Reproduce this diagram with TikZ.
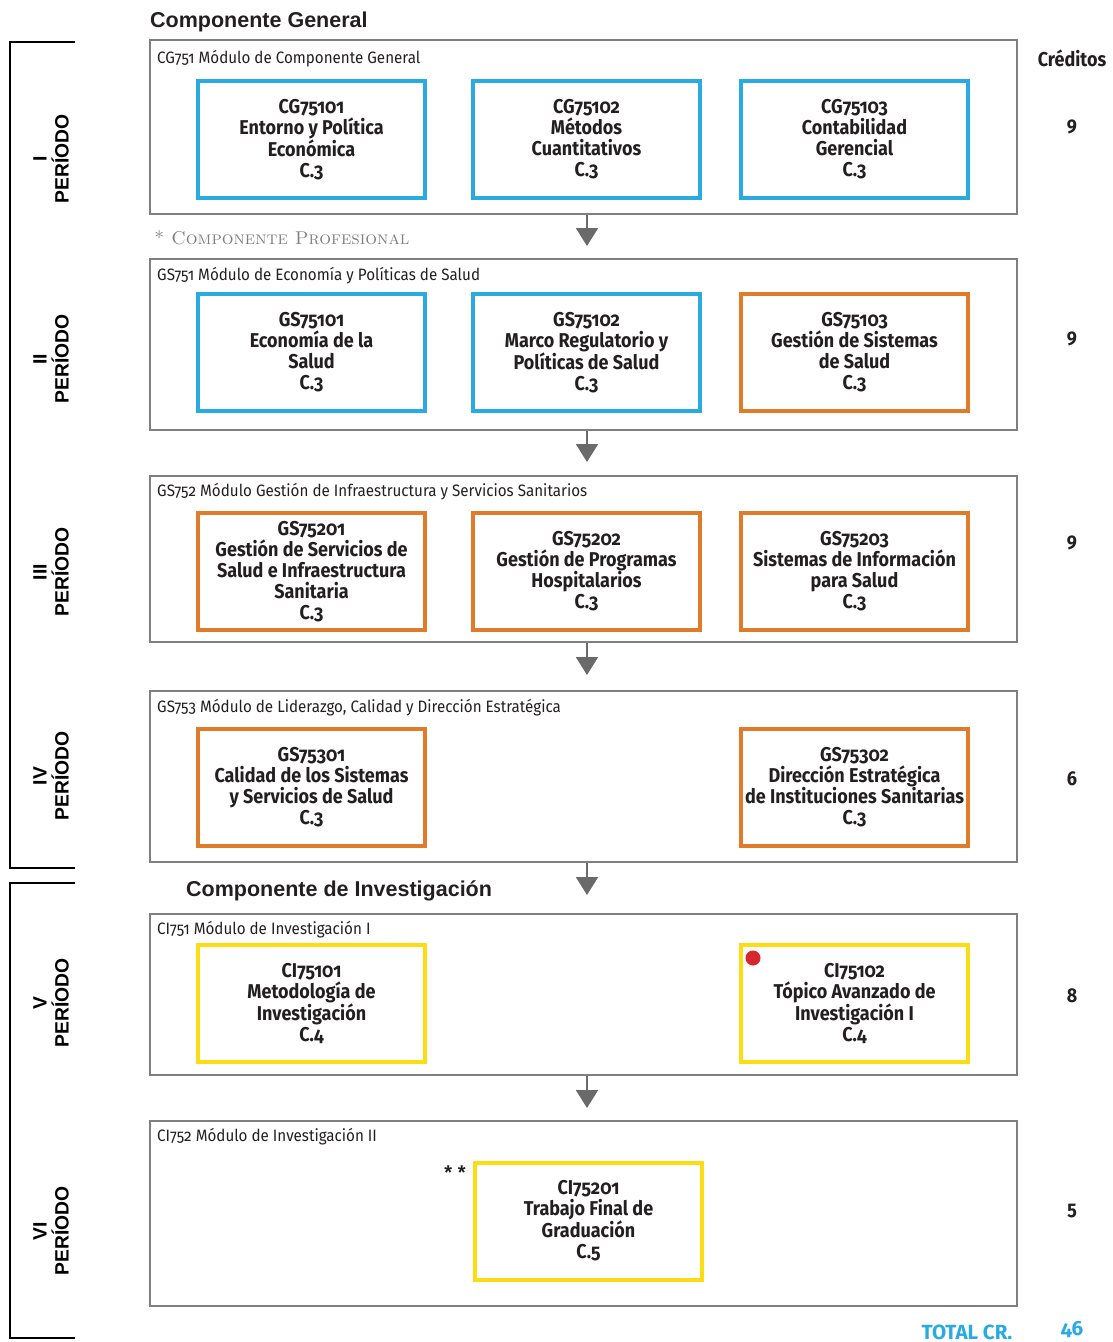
\documentclass[tikz,border=0pt]{standalone}
\usepackage{fontspec}
\setmainfont{Liberation Sans}
\newfontfamily\curso[Numbers=OldStyle,FakeStretch=0.9]{Fira Sans}
\newfontfamily\modulofont[Numbers=OldStyle,FakeStretch=0.92]{Fira Sans}
\newfontfamily\cifra[Numbers=OldStyle]{Fira Sans}
\newfontfamily\profesional{lmromancaps10-regular.otf}
\usetikzlibrary{arrows.meta}
\definecolor{cazul}{HTML}{29ABE2}
\definecolor{cnaranja}{HTML}{E07B2A}
\definecolor{camarillo}{HTML}{FCDD14}
\definecolor{cgris}{HTML}{7F7F7F}
\definecolor{cflecha}{HTML}{6A6A6A}
\definecolor{ctexto}{HTML}{231F20}
\definecolor{crojo}{HTML}{D7262E}

\begin{document}
\begin{tikzpicture}[x=1pt, y=-1pt,
    modulo/.style={draw=cgris, line width=2pt, minimum width=867pt, inner sep=0pt},
    curso/.style={line width=4pt, minimum width=227pt, minimum height=117pt, inner sep=0pt,
        align=center, text=ctexto, font=\curso\bfseries\fontsize{20}{21}\selectfont},
    cursoazul/.style={curso, draw=cazul},
    cursonaranja/.style={curso, draw=cnaranja},
    cursoamarillo/.style={curso, draw=camarillo},
    titulo/.style={anchor=west, inner sep=0pt, text=ctexto, font=\modulofont\fontsize{16.5}{16.5}\selectfont},
    componente/.style={anchor=west, inner sep=0pt, text=ctexto, font=\bfseries\fontsize{21.5}{21.5}\selectfont},
    periodo/.style={rotate=90, align=center, inner sep=0pt, font=\bfseries\fontsize{19.3}{22}\selectfont},
    credito/.style={inner sep=0pt, text=ctexto, font=\curso\bfseries\fontsize{20}{20}\selectfont},
    flecha/.style={draw=cflecha, line width=2pt, -{Triangle[length=18pt,width=22pt,fill=cflecha]}}]

    \useasboundingbox (0,0) rectangle (1112,1342);

    % periodos
    \draw[line width=1.5pt] (75,42) -- (10,42) -- (10,868) -- (75,868);
    \draw[line width=1.5pt] (75,883) -- (10,883) -- (10,1338) -- (75,1338);
    \node[periodo] at (51,159)  (p1) {I\\PERÍODO};
    \node[periodo] at (51,359)  (p2) {II\\PERÍODO};
    \node[periodo] at (51,572)  (p3) {III\\PERÍODO};
    \node[periodo] at (51,776)  (p4) {IV\\PERÍODO};
    \node[periodo] at (51,1003) (p5) {V\\PERÍODO};
    \node[periodo] at (51,1231) (p6) {VI\\PERÍODO};

    % componentes
    \node[componente] at (150,22) (cg) {Componente General};
    \node[anchor=west, inner sep=0pt, text=cgris, font=\profesional\fontsize{18.5}{18.5}\selectfont] at (154,238) (cp) {* Componente Profesional};
    \node[componente] at (186,891) (ci) {Componente de Investigación};

    % modulos
    \node[modulo, minimum height=174pt] at (583.5,127)    (m1) {};
    \node[modulo, minimum height=171pt] at (583.5,344.5)  (m2) {};
    \node[modulo, minimum height=166pt] at (583.5,559)    (m3) {};
    \node[modulo, minimum height=171pt] at (583.5,776.5)  (m4) {};
    \node[modulo, minimum height=161pt] at (583.5,994.5)  (m5) {};
    \node[modulo, minimum height=185pt] at (583.5,1213.5) (m6) {};

    \node[titulo] at (157,59)   (t1) {CG751 Módulo de Componente General};
    \node[titulo] at (157,276)  (t2) {GS751 Módulo de Economía y Políticas de Salud};
    \node[titulo] at (157,492)  (t3) {GS752 Módulo Gestión de Infraestructura y Servicios Sanitarios};
    \node[titulo] at (157,708)  (t4) {GS753 Módulo de Liderazgo, Calidad y Dirección Estratégica};
    \node[titulo] at (157,930)  (t5) {CI751 Módulo de Investigación I};
    \node[titulo] at (157,1137) (t6) {CI752 Módulo de Investigación II};

    % cursos
    \node[cursoazul] at (311.5,139.5) (cg75101) {CG75101\\Entorno y Política\\Económica\\C.3};
    \node[cursoazul] at (586.5,139.5) (cg75102) {CG75102\\Métodos\\Cuantitativos\\C.3};
    \node[cursoazul] at (854.5,139.5) (cg75103) {CG75103\\Contabilidad\\Gerencial\\C.3};

    \node[cursoazul]    at (311.5,352.5) (gs75101) {GS75101\\Economía de la\\Salud\\C.3};
    \node[cursoazul]    at (586.5,352.5) (gs75102) {GS75102\\Marco Regulatorio y\\Políticas de Salud\\C.3};
    \node[cursonaranja] at (854.5,352.5) (gs75103) {GS75103\\Gestión de Sistemas\\de Salud\\C.3};

    \node[cursonaranja] at (311.5,571.5) (gs75201) {GS75201\\Gestión de Servicios de\\Salud e Infraestructura\\Sanitaria\\C.3};
    \node[cursonaranja] at (586.5,571.5) (gs75202) {GS75202\\Gestión de Programas\\Hospitalarios\\C.3};
    \node[cursonaranja] at (854.5,571.5) (gs75203) {GS75203\\Sistemas de Información\\para Salud\\C.3};

    \node[cursonaranja] at (311.5,787) (gs75301) {GS75301\\Calidad de los Sistemas\\y Servicios de Salud\\C.3};
    \node[cursonaranja] at (854.5,787) (gs75302) {GS75302\\Dirección Estratégica\\de Instituciones Sanitarias\\C.3};

    \node[cursoamarillo] at (311.5,1003.5) (ci75101) {CI75101\\Metodología de\\Investigación\\C.4};
    \node[cursoamarillo] at (854.5,1003.5) (ci75102) {CI75102\\Tópico Avanzado de\\Investigación I\\C.4};
    \node[circle, fill=crojo, inner sep=0pt, minimum size=15pt] at (753,958) (punto) {};

    \node[cursoamarillo] at (588.5,1221) (ci75201) {CI75201\\Trabajo Final de\\Graduación\\C.5};
    \node[inner sep=0pt, text=ctexto, font=\bfseries\fontsize{20}{20}\selectfont] at (455,1173) (estrellas) {* *};

    % flechas
    \draw[flecha, shorten >=12pt] ([xshift=3.5pt]m1.south) -- ([xshift=3.5pt]m2.north);
    \draw[flecha, shorten >=13pt] ([xshift=3.5pt]m2.south) -- ([xshift=3.5pt]m3.north);
    \draw[flecha, shorten >=15pt] ([xshift=3.5pt]m3.south) -- ([xshift=3.5pt]m4.north);
    \draw[flecha, shorten >=18pt] ([xshift=3.5pt]m4.south) -- ([xshift=3.5pt]m5.north);
    \draw[flecha, shorten >=12pt] ([xshift=3.5pt]m5.south) -- ([xshift=3.5pt]m6.north);

    % creditos
    \node[credito] at (1072,58)   (cr)  {Créditos};
    \node[credito] at (1072,127)  (cr1) {9};
    \node[credito] at (1072,339)  (cr2) {9};
    \node[credito] at (1072,543)  (cr3) {9};
    \node[credito] at (1072,779)  (cr4) {6};
    \node[credito] at (1072,996)  (cr5) {8};
    \node[credito] at (1072,1211) (cr6) {5};
    \node[inner sep=0pt, text=cazul, font=\cifra\bfseries\fontsize{20.5}{20.5}\selectfont] at (967,1332)  (total) {TOTAL CR.};
    \node[inner sep=0pt, text=cazul, font=\cifra\bfseries\fontsize{20.5}{20.5}\selectfont] at (1072,1330) (suma)  {46};
\end{tikzpicture}
\end{document}
